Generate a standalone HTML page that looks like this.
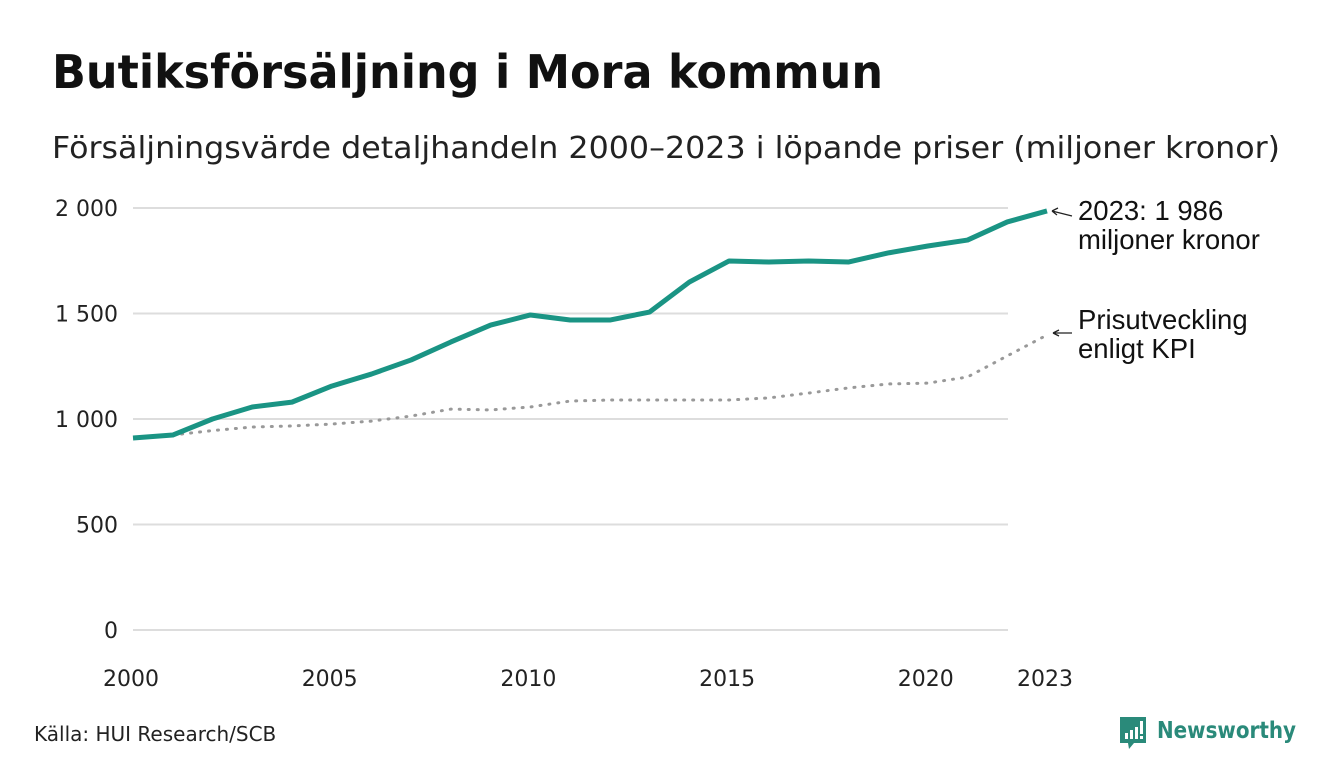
<!DOCTYPE html>
<html><head><meta charset="utf-8"><style>
body{margin:0;background:#fff;width:1340px;height:780px;overflow:hidden;font-family:"DejaVu Sans","Liberation Sans",sans-serif}
</style></head><body>
<svg width="1340" height="780">
<text x="52" y="88" font-size="46" font-weight="bold" fill="#111" textLength="831" lengthAdjust="spacingAndGlyphs">Butiksförsäljning i Mora kommun</text>
<text x="52" y="158" font-size="30" fill="#222" textLength="1228" lengthAdjust="spacingAndGlyphs">Försäljningsvärde detaljhandeln 2000–2023 i löpande priser (miljoner kronor)</text>
<g id="grid"></g><g id="ylab"></g><g id="xlab"></g><g id="lines"></g>
<text x="1078" y="220" font-family="Liberation Sans" font-size="27.5" fill="#111">2023: 1 986</text>
<text x="1078" y="249" font-family="Liberation Sans" font-size="27.5" fill="#111">miljoner kronor</text>
<text x="1078" y="329" font-family="Liberation Sans" font-size="27.5" fill="#111">Prisutveckling</text>
<text x="1078" y="358" font-family="Liberation Sans" font-size="27.5" fill="#111">enligt KPI</text>
<path d="M1072 216 L1052 211 M1052 211 l6 -3 M1052 211 l5 4" stroke="#222" stroke-width="1.3" fill="none"/>
<path d="M1072 333 L1053 333 M1053 333 l6 -3 M1053 333 l6 3" stroke="#222" stroke-width="1.3" fill="none"/>
<text x="34" y="741" font-size="20" fill="#222">Källa: HUI Research/SCB</text>
<g>
<path d="M1120 717 h26 v26 h-12 l-5 6 l-1 -6 h-8 z" fill="#2a8a7a"/>
<rect x="1125" y="733" width="3" height="6" fill="#fff"/><rect x="1130" y="730" width="3" height="9" fill="#fff"/><rect x="1135" y="727" width="3" height="12" fill="#fff"/><rect x="1140" y="721" width="3" height="13" fill="#fff"/><rect x="1140" y="736" width="3" height="3" fill="#fff"/>
<text x="1157" y="738" font-size="23" font-weight="bold" fill="#2a8a7a" textLength="139" lengthAdjust="spacingAndGlyphs">Newsworthy</text>
</g>
</svg>
<script>
const years=[2000,2001,2002,2003,2004,2005,2006,2007,2008,2009,2010,2011,2012,2013,2014,2015,2016,2017,2018,2019,2020,2021,2022,2023];
const sales=[910,924,1000,1057,1080,1156,1213,1280,1365,1445,1493,1469,1469,1507,1649,1749,1744,1749,1744,1787,1820,1848,1934,1986];
const kpiYears=[2001,2002,2003,2004,2005,2006,2007,2008,2009,2010,2011,2012,2013,2014,2015,2016,2017,2018,2019,2020,2021,2022,2023];
const kpi=[924,945,962,967,976,990,1014,1047,1043,1057,1085,1090,1090,1090,1090,1100,1123,1147,1166,1170,1199,1299,1398];
const yTicks=[0,500,1000,1500,2000];
const yTickLabels=["0","500","1 000","1 500","2 000"];
const xTicks=[2000,2005,2010,2015,2020,2023];
const NS='http://www.w3.org/2000/svg';
const x=v=>133+(v-2000)*(1047-133)/23;
const y=v=>630-v*0.211;
function mk(t,a,p){const e=document.createElementNS(NS,t);for(const k in a)e.setAttribute(k,a[k]);document.getElementById(p).appendChild(e);return e;}
yTicks.forEach((t,i)=>{
 const l=mk('line',{x1:133,x2:1008,y1:y(t),y2:y(t),stroke:'#ddd','stroke-width':2},'grid');
 
 
 const tx=mk('text',{x:118,y:y(t)+8,'text-anchor':'end','font-size':22,fill:'#222'},'ylab');
 tx.textContent=yTickLabels[i];
 
 
});
xTicks.forEach(t=>{
 const tx=mk('text',{x:x(t)-2,y:686,'text-anchor':'middle','font-size':22,fill:'#222'},'xlab');
 tx.textContent=t;
 
 
});
const k=mk('polyline',{points:kpiYears.map((t,i)=>x(t)+','+y(kpi[i])).join(' '),fill:'none',stroke:'#999','stroke-width':3,'stroke-dasharray':'1 8','stroke-linecap':'round'},'lines');


const s=mk('polyline',{points:years.map((t,i)=>x(t)+','+y(sales[i])).join(' '),fill:'none',stroke:'#1a9484','stroke-width':5,'stroke-linejoin':'round'},'lines');


</script>
</body></html>
